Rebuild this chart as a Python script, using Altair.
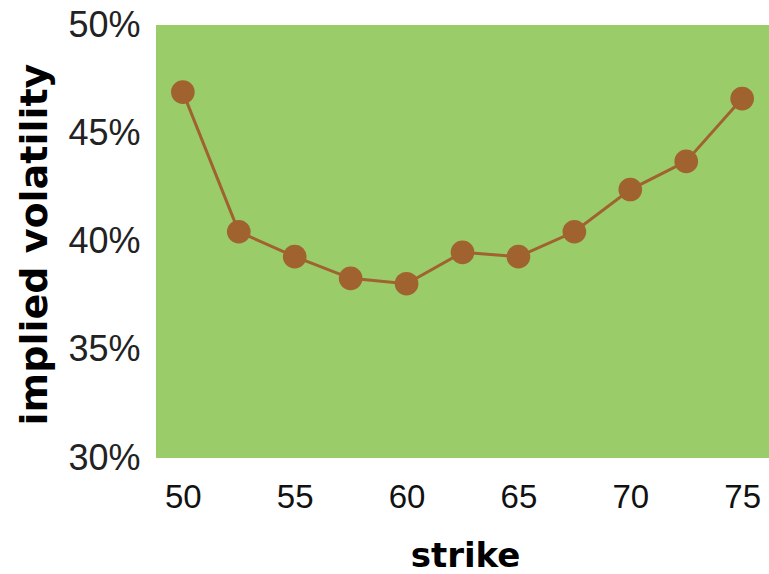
import altair as alt
import pandas as pd

strikes = [50, 52.5, 55, 57.5, 60, 62.5, 65, 67.5, 70, 72.5, 75]
iv = [0.469, 0.4045, 0.393, 0.383, 0.3805, 0.395, 0.393, 0.4045, 0.424, 0.437, 0.466]
x_ticks = [50, 55, 60, 65, 70, 75]
y_ticks = [0.30, 0.35, 0.40, 0.45, 0.50]

df = pd.DataFrame({"strike": strikes, "iv": iv})

brown = "#A0622F"

x = alt.X(
    "strike:Q",
    scale=alt.Scale(domain=[48.8, 76.2], nice=False, zero=False),
    axis=alt.Axis(
        values=x_ticks, title="strike", grid=False, ticks=False, domain=False,
        labelFont="Liberation Sans", labelFontSize=33, labelColor="#111",
        labelBaseline="alphabetic", labelPadding=49,
        titleFont="DejaVu Sans", titleFontWeight="bold", titleFontSize=34,
        titleColor="#000", titleX=309, titleY=108, titleBaseline="alphabetic",
        titleAlign="center",
    ),
)
y = alt.Y(
    "iv:Q",
    scale=alt.Scale(domain=[0.30, 0.50], nice=False, zero=False),
    axis=alt.Axis(
        values=y_ticks, format=".0%", title="implied volatility", grid=False,
        ticks=False, domain=False,
        labelFont="Liberation Sans", labelFontSize=36, labelColor="#222",
        labelBaseline="middle", labelPadding=16,
        titleFont="DejaVu Sans", titleFontWeight="bold", titleFontSize=38,
        titleColor="#000", titleX=-121, titleY=219, titleAngle=-90,
        titleAlign="center", titleBaseline="middle",
    ),
)

line = alt.Chart(df).mark_line(color=brown, strokeWidth=3).encode(x=x, y=y)
pts = alt.Chart(df).mark_circle(color=brown, opacity=1, size=560).encode(x=x, y=y)

chart = (
    alt.layer(line, pts)
    .properties(
        width=613, height=433,
        autosize=alt.AutoSizeParams(type="none"),
        padding={"left": 156, "top": 25, "right": 0, "bottom": 116},
        background="white",
    )
    .configure_view(fill="#9BCC6A", stroke=None)
)

chart.save("out.html", embed_options={"renderer": "svg", "actions": False})
